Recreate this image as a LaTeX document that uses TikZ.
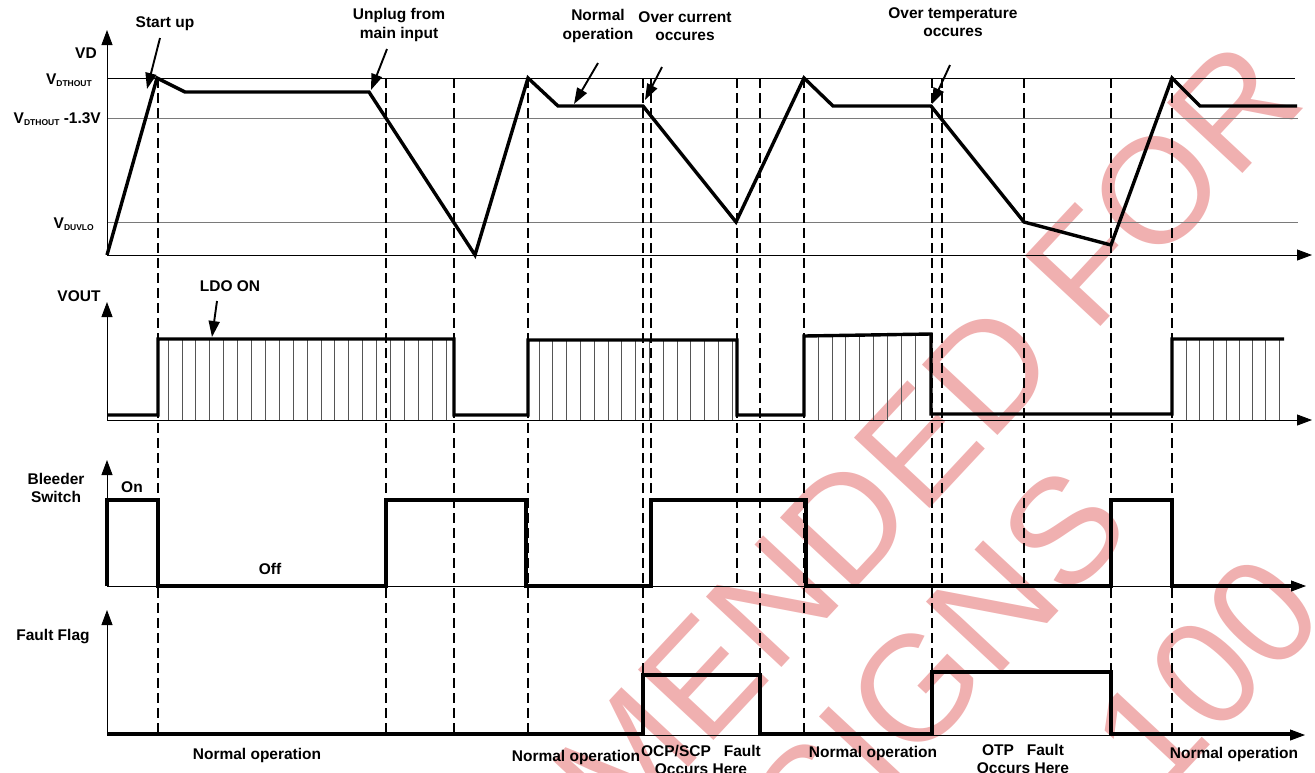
\documentclass[tikz,border=0pt]{standalone}
\usepackage{fontspec}
\setmainfont{Liberation Sans}
\usetikzlibrary{arrows.meta}
\definecolor{gridGrey}{HTML}{7a7a7a}
\definecolor{hatchGrey}{HTML}{555555}
\definecolor{wmPink}{HTML}{F0B0B0}
\tikzset{
  wave/.style={line width=3.4pt, line join=miter},
  thresh/.style={line width=0.9pt, draw=gridGrey},
  vaxis/.style={line width=0.9pt, -{Triangle[length=15pt,width=11pt]}},
  guide/.style={line width=2.6pt, dash pattern=on 10pt off 5pt},
  hatch/.style={line width=0.7pt, draw=hatchGrey},
  lbl/.style={font=\bfseries\fontsize{15.5}{18.5}\selectfont, align=center, inner sep=0pt},
  note/.style={line width=1.9pt, -{Triangle[length=16pt,width=11pt]}},
  stamp/.style={font=\fontsize{150}{164}\selectfont, text=wmPink, align=center,
                inner sep=0pt, rotate=47},
}
\newcommand{\sbs}[1]{\raisebox{-1.5pt}{\fontsize{8.5}{9}\selectfont #1}}

\begin{document}
\begin{tikzpicture}[x=1pt,y=-1pt]
  \useasboundingbox (0,0) rectangle (1315,772);
  % watermark behind everything
  \node[stamp] (wm) at (674,828) {NOT RECOMMENDED FOR\\NEW DESIGNS};
  \node[stamp] (wm3) at (1206,674) {100};
  % threshold levels and axes of VD
  \draw[thresh, draw=black] (107,78) -- (1295,78);
  \draw[thresh] (107,118) -- (1298,118);
  \draw[thresh] (107,222) -- (1298,222);
  \draw[vaxis] (107,255) -- (107,30);
  \draw[vaxis] (107,255) -- (1312,255);
  % axes of VOUT, bleeder and fault flag
  \foreach \yb/\yt/\xe in {420/302/1312,586/460/1306,735/610/1305}{
    \draw[vaxis] (107,\yb) -- (107,\yt);
    \draw[vaxis] (107,\yb) -- (\xe,\yb);}
  % dashed time markers
  \foreach \x in {158,386,454,528,643,760,804,932,1111,1172}
    \draw[guide] (\x,78) -- (\x,735);
  \foreach \x in {651,737,942,1024}
    \draw[guide] (\x,78) -- (\x,585);
  % VD waveform
  \draw[wave] (107,255) -- (157,78) -- (185,92) -- (369,92) -- (475,255)
    -- (528,78) -- (558,106) -- (643,106) -- (736,222) -- (804,78)
    -- (833,106) -- (931,106) -- (1024,222) -- (1111,245) -- (1172,78)
    -- (1200,106) -- (1297,106);
  % VOUT hatching
  \foreach \k in {0,...,20} \draw[hatch] ({168+13.9*\k},340) -- ++(0,80);
  \foreach \k in {0,...,14} \draw[hatch] ({539+13.8*\k},340) -- ++(0,80);
  \foreach \k in {0,...,7} \draw[hatch] ({818+13.9*\k},335) -- ++(0,85);
  \foreach \k in {0,...,7} \draw[hatch] ({1186.5+13.2*\k},339) -- ++(0,81);
  % VOUT waveform
  \draw[wave] (107,415) -- (158,415) -- (158,339) -- (454,339) -- (454,415)
    -- (528,415) -- (528,340) -- (737,340) -- (737,415) -- (804,415)
    -- (804,336) -- (931,334) -- (931,414) -- (1172,414) -- (1172,339)
    -- (1284,339);
  % bleeder switch
  \draw[wave] (107,586) -- (107,500) -- (158,500) -- (158,586) -- (386,586)
    -- (386,500) -- (526,500) -- (526,586) -- (651,586) -- (651,500)
    -- (806,500) -- (806,586) -- (1111,586) -- (1111,500) -- (1172,500)
    -- (1172,586) -- (1292,586);
  % fault flag
  \draw[wave] (107,734) -- (643,734) -- (643,675) -- (760,675) -- (760,734)
    -- (932,734) -- (932,672) -- (1111,672) -- (1111,734) -- (1292,734);

  % axis labels
  \node[lbl] (vd) at (86,53) {VD};
  \node[lbl, anchor=east] (vth) at (92,80) {V\sbs{DTHOUT}};
  \node[lbl, anchor=east] (vth13) at (101,119) {V\sbs{DTHOUT} -1.3V};
  \node[lbl, anchor=east] (vuvlo) at (94,224) {V\sbs{DUVLO}};
  \node[lbl] (vout) at (79,296) {VOUT};
  \node[lbl] (bleed) at (56,488) {Bleeder\\Switch};
  \node[lbl] (flag) at (53,637) {Fault Flag};
  \node[lbl] (on) at (132,487) {On};
  \node[lbl] (off) at (270,569) {Off};
  % event labels
  \node[lbl] (start) at (165,24) {Start up};
  \node[lbl] (unplug) at (399,25) {Unplug from\\main input};
  \node[lbl] (normal) at (598,26) {Normal\\operation};
  \node[lbl] (ocur) at (685,26) {Over current\\occures};
  \node[lbl] (otemp) at (953,22) {Over temperature\\occures};
  \node[lbl] (ldo) at (230,286) {LDO ON};
  % phase labels
  \node[lbl] (ph1) at (257,755) {Normal operation};
  \node[lbl] (ph2) at (576,757) {Normal operation};
  \node[lbl] (ph3) at (701,760) {OCP/SCP\ \ \ Fault\\Occurs Here};
  \node[lbl] (ph4) at (873,753) {Normal operation};
  \node[lbl] (ph5) at (1023,759) {OTP\ \ \ Fault\\Occurs Here};
  \node[lbl] (ph6) at (1234,754) {Normal operation};

  % pointers
  \coordinate (start-t) at (160,38);   \coordinate (start-h) at (147,89);
  \coordinate (unplug-t) at (387,49);  \coordinate (unplug-h) at (371,90);
  \coordinate (normal-t) at (598,63);  \coordinate (normal-h) at (574,104);
  \coordinate (ocur-t) at (662,67);    \coordinate (ocur-h) at (645,100);
  \coordinate (otemp-t) at (950,65);   \coordinate (otemp-h) at (932,104);
  \coordinate (ldo-t) at (217,301);    \coordinate (ldo-h) at (212,337);
  \foreach \n in {start,unplug,normal,ocur,otemp,ldo}
    \draw[note] (\n-t) -- (\n-h);
\end{tikzpicture}
\end{document}
